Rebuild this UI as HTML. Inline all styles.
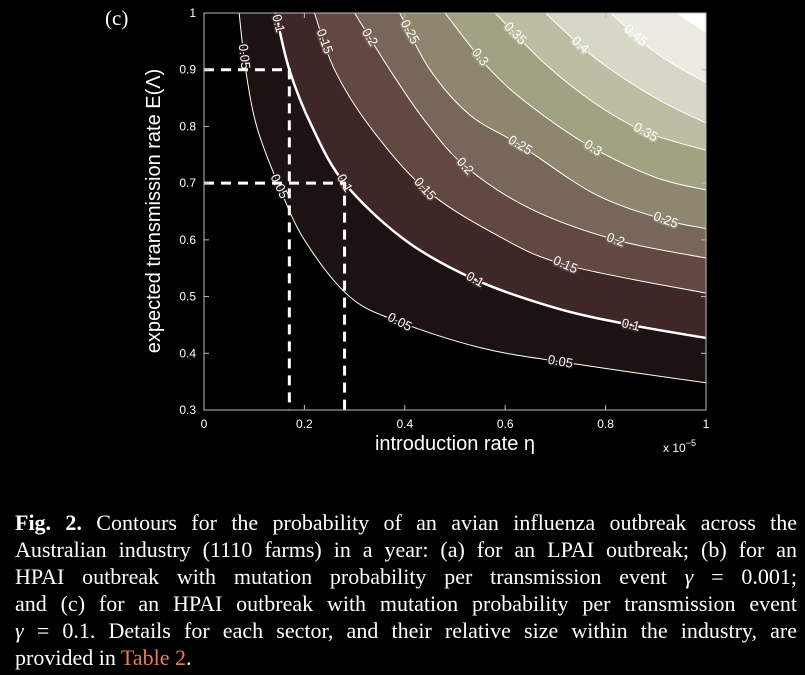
<!DOCTYPE html>
<html><head><meta charset="utf-8"><style>
body{margin:0;background:#000;width:805px;height:675px;overflow:hidden;font-family:"Liberation Sans",sans-serif;color:#fff}
#chart{position:absolute;left:0;top:0}
.cap{position:absolute;left:15px;width:782px;font-family:"Liberation Serif",serif;font-size:22px;line-height:27px;color:#fff}
.ln{text-align:justify;text-align-last:justify;white-space:nowrap;height:27px}
.ln.last{text-align-last:left}
a{color:#f07a5a;text-decoration:none}
</style></head><body>
<svg id="chart" width="805" height="490"></svg>
<div class="cap" style="top:509px">
<div class="ln"><b>Fig. 2.</b> Contours for the probability of an avian influenza outbreak across the</div>
<div class="ln">Australian industry (1110 farms) in a year: (a) for an LPAI outbreak; (b) for an</div>
<div class="ln">HPAI outbreak with mutation probability per transmission event <i>γ</i> = 0.001;</div>
<div class="ln">and (c) for an HPAI outbreak with mutation probability per transmission event</div>
<div class="ln"><i>γ</i> = 0.1. Details for each sector, and their relative size within the industry, are</div>
<div class="ln last">provided in <a>Table 2</a>.</div>
</div>
<script>
const levels=[0.05,0.1,0.15,0.2,0.25,0.3,0.35,0.4,0.45,0.5];
const levelLabels=["0.05","0.1","0.15","0.2","0.25","0.3","0.35","0.4","0.45",""];
const bandColors=["#1c1212","#3f2727","#634842","#79665a","#8f8670","#a1a282","#bcbda2","#d6d7c6","#ebebe4","#ffffff"];
const contourEta=[
[0.07,0.083,0.105,0.147,0.2,0.29,0.39,0.55,0.71,1.0],
[0.143,0.17,0.215,0.28,0.4,0.54,0.7,0.85,1.0],
[0.22,0.26,0.33,0.44,0.58,0.72,1.0],
[0.30,0.37,0.44,0.52,0.65,0.82,1.0],
[0.39,0.45,0.53,0.63,0.78,0.92,1.0],
[0.48,0.57,0.66,0.775,0.9,1.0],
[0.58,0.68,0.78,0.88,1.0],
[0.68,0.78,0.9,1.0],
[0.81,0.9,1.0],
[0.94,1.0]];
const contourLam=[
[1.0,0.9,0.8,0.7,0.6,0.5,0.455,0.41,0.385,0.348],
[1.0,0.9,0.8,0.70,0.60,0.53,0.48,0.45,0.427],
[1.0,0.9,0.8,0.69,0.61,0.556,0.506],
[1.0,0.9,0.81,0.73,0.655,0.6,0.568],
[1.0,0.9,0.82,0.767,0.68,0.635,0.62],
[1.0,0.9,0.83,0.762,0.71,0.688],
[1.0,0.91,0.84,0.79,0.758],
[1.0,0.92,0.85,0.806],
[1.0,0.93,0.877],
[1.0,0.965]];
const labelEta=[[0.08,0.15,0.39,0.71],[0.148,0.28,0.54,0.85],[0.24,0.44,0.72],[0.33,0.52,0.82],[0.41,0.63,0.92],[0.55,0.775],[0.62,0.88],[0.75],[0.86],[]];
const xTicks=[0,0.2,0.4,0.6,0.8,1];
const xTickLabels=["0","0.2","0.4","0.6","0.8","1"];
const yTicks=[0.3,0.4,0.5,0.6,0.7,0.8,0.9,1];
const yTickLabels=["0.3","0.4","0.5","0.6","0.7","0.8","0.9","1"];
const markEta=[0.17,0.28];
const markLam=[0.9,0.7];

const L=204,R=706,T=13,B=410;
const X=v=>L+v*(R-L);
const Y=v=>B-(v-0.3)/0.7*(B-T);
const svg=document.getElementById('chart');
const NS='http://www.w3.org/2000/svg';
function mk(tag,attrs,parent){const e=document.createElementNS(NS,tag);for(const k in attrs)e.setAttribute(k,attrs[k]);(parent||svg).appendChild(e);return e;}
function smooth(pts){let d='M'+pts[0][0]+','+pts[0][1];for(let i=0;i<pts.length-1;i++){const p0=pts[Math.max(i-1,0)],p1=pts[i],p2=pts[i+1],p3=pts[Math.min(i+2,pts.length-1)];
const c1=[p1[0]+(p2[0]-p0[0])/6,p1[1]+(p2[1]-p0[1])/6],c2=[p2[0]-(p3[0]-p1[0])/6,p2[1]-(p3[1]-p1[1])/6];
d+=' C'+c1[0]+','+c1[1]+' '+c2[0]+','+c2[1]+' '+p2[0]+','+p2[1];}return d;}
const clip=mk('clipPath',{id:'pc'});mk('rect',{x:L,y:T,width:R-L,height:B-T},clip);
const g=mk('g',{'clip-path':'url(#pc)'});


mk('rect',{x:L,y:T,width:R-L,height:B-T,fill:'#000'},g);
const paths=[];
levels.forEach((lv,i)=>{const pts=contourEta[i].map((e,j)=>[X(e),Y(contourLam[i][j])]);paths.push(pts);
const d=smooth(pts)+' L'+(R+5)+','+pts[pts.length-1][1]+' L'+(R+5)+','+(T-5)+' L'+pts[0][0]+','+(T-5)+' Z';
const f=mk('path',{d:d,fill:bandColors[i]},g);

});
levels.forEach((lv,i)=>{if(i===levels.length-1)return;const l=mk('path',{d:smooth(paths[i]),fill:'none',stroke:'#fff','stroke-width':lv===0.1?2.5:1},g);


labelEta[i].forEach(e=>{const es=contourEta[i],ls=contourLam[i];let k=0;while(k<es.length-2&&es[k+1]<e)k++;
const t=(e-es[k])/(es[k+1]-es[k]);const lam=ls[k]+t*(ls[k+1]-ls[k]);
const ang=Math.atan2(Y(ls[k+1])-Y(ls[k]),X(es[k+1])-X(es[k]))*180/Math.PI;
const x=X(e),y=Y(lam);
const tx=mk('text',{x:x,y:y+4,'font-size':13,fill:'#fff','text-anchor':'middle',transform:'rotate('+ang+' '+x+' '+y+')',stroke:bandColors[i],'stroke-width':3,'paint-order':'stroke'},g);
tx.textContent=levelLabels[i];

});});
markEta.forEach((e,i)=>{const h=mk('path',{d:'M'+L+','+Y(markLam[i])+' H'+X(e)+' V'+B,fill:'none',stroke:'#fff','stroke-width':3,'stroke-dasharray':'10,7'},g);

});
const fr=mk('rect',{x:L,y:T,width:R-L,height:B-T,fill:'none',stroke:'#bbb','stroke-width':1});


xTicks.forEach((v,i)=>{mk('line',{x1:X(v),x2:X(v),y1:B,y2:B-5,stroke:'#bbb'});mk('line',{x1:X(v),x2:X(v),y1:T,y2:T+5,stroke:'#bbb'});
const t=mk('text',{x:X(v),y:B+18,'font-size':12,fill:'#fff','text-anchor':'middle'});t.textContent=xTickLabels[i];

});
yTicks.forEach((v,i)=>{mk('line',{x1:L,x2:L+5,y1:Y(v),y2:Y(v),stroke:'#bbb'});mk('line',{x1:R,x2:R-5,y1:Y(v),y2:Y(v),stroke:'#bbb'});
const t=mk('text',{x:L-8,y:Y(v)+4,'font-size':12,fill:'#fff','text-anchor':'end'});t.textContent=yTickLabels[i];

});
let t=mk('text',{x:455,y:450,'font-size':20,fill:'#fff','text-anchor':'middle'});t.textContent='introduction rate  η';


t=mk('text',{x:160,y:211,'font-size':20,fill:'#fff','text-anchor':'middle',transform:'rotate(-90 160 211)'});t.textContent='expected transmission rate  E(Λ)';


t=mk('text',{x:663,y:452,'font-size':12,fill:'#fff'});t.innerHTML='x 10<tspan dy="-6" font-size="9">−5</tspan>';


t=mk('text',{x:105,y:25,'font-size':21,fill:'#fff','font-family':'Liberation Serif,serif'});t.textContent='(c)';


</script>
</body></html>
